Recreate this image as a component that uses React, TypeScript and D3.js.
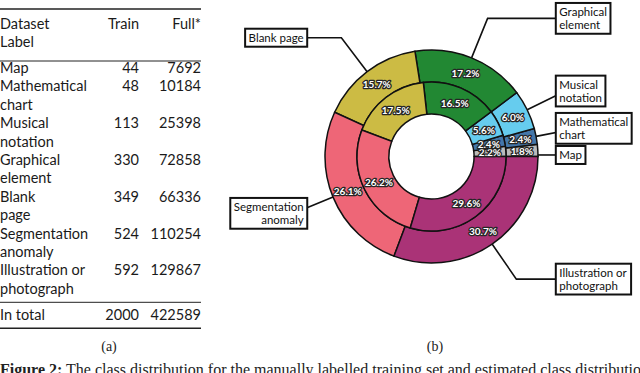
import * as d3 from 'd3';
import { useEffect, useRef } from 'react';

// class order as in the table (and counterclockwise from 3 o'clock in the donut)
const categories = ["Map", "Mathematical chart", "Musical notation", "Graphical element", "Blank page", "Segmentation anomaly", "Illustration or photograph"];
const trainCounts = [44, 48, 113, 330, 349, 524, 592];
const fullCounts = [7692, 10184, 25398, 72858, 66336, 110254, 129867];
// percentages as printed in the donut (inner ring = train, outer ring = full)
const trainPctLabels = ["2.2%", "2.4%", "5.6%", "16.5%", "17.5%", "26.2%", "29.6%"];
const fullPctLabels = ["1.8%", "2.4%", "6.0%", "17.2%", "15.7%", "26.1%", "30.7%"];

const tableLabelLines = [["Map"], ["Mathematical", "chart"], ["Musical", "notation"], ["Graphical", "element"], ["Blank", "page"], ["Segmentation", "anomaly"], ["Illustration or", "photograph"]];
const calloutLines = [["Map"], ["Mathematical", "chart"], ["Musical", "notation"], ["Graphical", "element"], ["Blank page"], ["Segmentation", "anomaly"], ["Illustration or", "photograph"]];
const headerLines = ["Dataset", "Label"];
const trainHeader = "Train";
const fullHeader = "Full*";
const totalLabel = "In total";
const subCaptions = ["(a)", "(b)"];
const captionBold = "Figure 2:";
const captionText = " The class distribution for the manually labelled training set and estimated class distribution for the full dataset.";

const palette = ["#BBBBBB", "#4477AA", "#66CCEE", "#228833", "#CCBB44", "#EE6677", "#AA3377"];

const SANS = "Lato, 'Open Sans', sans-serif";
const SERIF = "'Liberation Serif', 'DejaVu Serif', serif";
const W = 640, H = 373;

const table = { right: 201, trainRight: 139, topRule: 9, headRule: 61, firstCenter: 68, pitch: 18.4, fontSize: 14.5 };
const pie = { cx: 431.5, cy: 156.5, r: 106.5 };
const labelReach: Record<string, number> = { Map: 0.25 };

const Table = () => {
    let line = 0;
    const rows = tableLabelLines.map((lines, i) => {
        const y0 = table.firstCenter + line * table.pitch;
        line += lines.length;
        return { lines, y0, train: trainCounts[i], full: fullCounts[i] };
    });
    const lastLineY = table.firstCenter + (line - 1) * table.pitch;
    const midRule = lastLineY + 13.5;
    const totalY = midRule + 13;
    const bottomRule = totalY + 13;
    const base = 5;
    return (
        <g fontFamily={SANS} fontSize={table.fontSize} fill="#1a1a1a">
            <line x1={0} x2={table.right} y1={table.topRule} y2={table.topRule} stroke="#222" strokeWidth={1.6} />
            {headerLines.map((t, i) => (
                <text key={t} x={0} y={24 + i * 18.4 + base}>{t}</text>
            ))}
            <text x={table.trainRight} y={24 + base} textAnchor="end">{trainHeader}</text>
            <text x={table.right} y={24 + base} textAnchor="end">{fullHeader}</text>
            <line x1={0} x2={table.right} y1={table.headRule} y2={table.headRule} stroke="#222" strokeWidth={1} />
            {rows.map((r) => (
                <g key={r.lines[0]}>
                    {r.lines.map((t, j) => (
                        <text key={t} x={0} y={r.y0 + j * table.pitch + base}>{t}</text>
                    ))}
                    <text x={table.trainRight} y={r.y0 + base} textAnchor="end">{r.train}</text>
                    <text x={table.right} y={r.y0 + base} textAnchor="end">{r.full}</text>
                </g>
            ))}
            <line x1={0} x2={table.right} y1={midRule} y2={midRule} stroke="#222" strokeWidth={1} />
            <text x={0} y={totalY + base}>{totalLabel}</text>
            <text x={table.trainRight} y={totalY + base} textAnchor="end">{d3.sum(trainCounts)}</text>
            <text x={table.right} y={totalY + base} textAnchor="end">{d3.sum(fullCounts)}</text>
            <line x1={0} x2={table.right} y1={bottomRule} y2={bottomRule} stroke="#222" strokeWidth={1.6} />
        </g>
    );
};

export default function App() {
    const calloutRef = useRef<SVGGElement>(null);

    // counterclockwise from 3 o'clock, like matplotlib's default pie
    const pieGen = d3.pie<number>().sort(null).value((d) => d).startAngle(Math.PI / 2).endAngle(Math.PI / 2 - 2 * Math.PI);
    const outerSlices = pieGen(fullCounts);
    const innerSlices = pieGen(trainCounts);
    const outerArc = d3.arc<d3.PieArcDatum<number>>().innerRadius(pie.r * 0.7).outerRadius(pie.r);
    const innerArc = d3.arc<d3.PieArcDatum<number>>().innerRadius(pie.r * 0.4).outerRadius(pie.r * 0.7);
    const outerLabelArc = d3.arc<d3.PieArcDatum<number>>().innerRadius(pie.r * 0.85).outerRadius(pie.r * 0.85);
    const innerLabelArc = d3.arc<d3.PieArcDatum<number>>().innerRadius(pie.r * 0.55).outerRadius(pie.r * 0.55);

    useEffect(() => {
        const g = d3.select(calloutRef.current);
        g.selectAll("*").remove();
        outerSlices.forEach((s, i) => {
            const m = (s.startAngle + s.endAngle) / 2;
            const sx = Math.sin(m), sy = -Math.cos(m);
            const px = pie.cx + pie.r * sx, py = pie.cy + pie.r * sy;
            const reach = labelReach[categories[i]] ?? 1.4;
            const ty = pie.cy + reach * pie.r * sy;
            const side = sx >= 0 ? 1 : -1;
            const tx = pie.cx + side * 1.2 * pie.r;
            const t = (ty - py) / sy;
            let pts: [number, number][];
            if (t < 0) {
                const ex = pie.cx + side * Math.sqrt(pie.r * pie.r - (ty - pie.cy) ** 2);
                pts = [[ex, ty], [tx, ty]];
            } else {
                pts = [[px, py], [px + t * sx, ty], [tx, ty]];
            }
            g.append("path")
                .attr("d", d3.line()(pts))
                .attr("fill", "none")
                .attr("stroke", "#111")
                .attr("stroke-width", 1.6);

            const box = g.append("g");
            const rect = box.append("rect");
            const lines = calloutLines[i];
            const lh = 12.8;
            const text = box.append("text")
                .attr("font-family", SANS)
                .attr("font-size", 11.5)
                .attr("fill", "#111")
                .attr("text-anchor", side > 0 ? "start" : "end");
            lines.forEach((l, j) => {
                text.append("tspan")
                    .attr("x", tx)
                    .attr("y", ty + (j - (lines.length - 1) / 2) * lh)
                    .attr("dominant-baseline", "central")
                    .text(l);
            });
            const bb = (text.node() as SVGTextElement).getBBox();
            rect.attr("x", bb.x - 3.5).attr("y", bb.y - 2.5)
                .attr("width", bb.width + 7).attr("height", bb.height + 5)
                .attr("fill", "white").attr("stroke", "#111").attr("stroke-width", 2);
        });
    }, []);

    return (
        <svg width={W} height={H} style={{ position: "absolute", left: 0, top: 0, background: "white" }}>
            <Table />
            <g>
                {outerSlices.map((s, i) => (
                    <path key={"o" + i} d={outerArc(s) ?? ""} transform={`translate(${pie.cx},${pie.cy})`} fill={palette[i]} stroke="#111" strokeWidth={1.5} />
                ))}
                {innerSlices.map((s, i) => (
                    <path key={"i" + i} d={innerArc(s) ?? ""} transform={`translate(${pie.cx},${pie.cy})`} fill={palette[i]} stroke="#111" strokeWidth={1.5} />
                ))}
            </g>
            <g fontFamily={SANS} fontSize={10} fontWeight="bold" textAnchor="middle" dominantBaseline="central" fill="white" stroke="#262626" strokeWidth={2.6} strokeLinejoin="round" style={{ paintOrder: "stroke" }}>
                {outerSlices.map((s, i) => {
                    const [x, y] = outerLabelArc.centroid(s);
                    return <text key={"ol" + i} x={pie.cx + x} y={pie.cy + y}>{fullPctLabels[i]}</text>;
                })}
                {innerSlices.map((s, i) => {
                    const [x, y] = innerLabelArc.centroid(s);
                    return <text key={"il" + i} x={pie.cx + x} y={pie.cy + y}>{trainPctLabels[i]}</text>;
                })}
            </g>
            <g ref={calloutRef} />
            <g fontFamily={SERIF} fontSize={14} fill="#222" textAnchor="middle">
                <text x={109} y={351}>{subCaptions[0]}</text>
                <text x={435} y={351}>{subCaptions[1]}</text>
            </g>
            <text x={0} y={374.5} fontFamily={SERIF} fontSize={16} fill="#222">
                <tspan fontWeight="bold">{captionBold}</tspan>
                <tspan>{captionText}</tspan>
            </text>
        </svg>
    );
}
